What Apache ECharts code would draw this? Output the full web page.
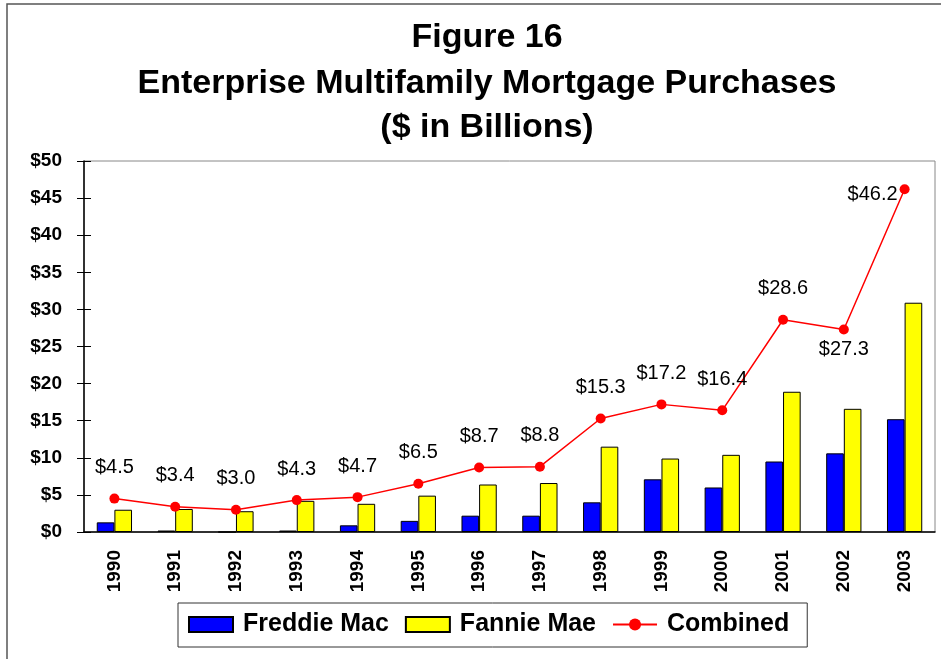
<!DOCTYPE html>
<html><head><meta charset="utf-8">
<script src="https://cdn.jsdelivr.net/npm/echarts@6/dist/echarts.min.js"></script>
<style>html,body{margin:0;padding:0;background:#fff}#c{width:941px;height:659px}</style>
</head><body><div id="c"></div>
<script>
const years = ['1990','1991','1992','1993','1994','1995','1996','1997','1998','1999','2000','2001','2002','2003'];
const freddie = [1.3, 0.2, 0.0, 0.2, 0.9, 1.5, 2.2, 2.2, 4.0, 7.1, 6.0, 9.5, 10.6, 15.2];
const fannie = [3.0, 3.1, 2.8, 4.2, 3.8, 4.9, 6.4, 6.6, 11.5, 9.9, 10.4, 18.9, 16.6, 30.9];
const combined = [4.5, 3.4, 3.0, 4.3, 4.7, 6.5, 8.7, 8.8, 15.3, 17.2, 16.4, 28.6, 27.3, 46.2];
const yTicks = [0, 5, 10, 15, 20, 25, 30, 35, 40, 45, 50];
const titleLines = ['Figure 16', 'Enterprise Multifamily Mortgage Purchases', '($ in Billions)'];

const FONT = '"Liberation Sans", Arial, sans-serif';
const chart = echarts.init(document.getElementById('c'), null, {renderer: 'canvas'});

const combinedData = combined.map((v, i) => {
  const d = {value: v};
  if (i === 12) d.label = {position: 'bottom', distance: 5};
  if (i === 13) d.label = {position: 'left', distance: 2, offset: [0, 5]};
  return d;
});

const titleY = [38, 84, 128];
const graphics = titleLines.map((t, i) => ({
  type: 'text', x: 487, y: titleY[i], scaleX: 1.03, z: 50,
  style: {text: t, font: 'bold 33px ' + FONT, fill: '#000', textAlign: 'center', textVerticalAlign: 'middle'}
}));
graphics.push({
  type: 'rect', shape: {x: 7, y: 4, width: 1000, height: 700},
  style: {fill: 'none', stroke: '#555', lineWidth: 1.5}, z: 100
});

chart.setOption({
  animation: false,
  backgroundColor: '#fff',
  textStyle: {fontFamily: FONT},
  graphic: graphics,
  legend: {
    left: 178, top: 603,
    padding: [9, 18, 10, 10],
    borderColor: '#333', borderWidth: 1,
    itemWidth: 44, itemHeight: 15, itemGap: 16,
    textStyle: {fontFamily: FONT, fontWeight: 'bold', fontSize: 25, color: '#000', padding: [0, 0, 0, 5]},
    data: [
      {name: 'Freddie Mac', icon: 'rect'},
      {name: 'Fannie Mae', icon: 'rect'},
      {name: 'Combined'}
    ]
  },
  grid: {left: 84, right: 6, top: 161, bottom: 127, show: true, borderColor: '#888', borderWidth: 1, containLabel: false},
  xAxis: {
    type: 'category', data: years,
    axisLine: {lineStyle: {color: '#000', width: 1.5}},
    axisTick: {length: 6, lineStyle: {color: '#000'}},
    axisLabel: {rotate: 90, margin: 18, fontFamily: FONT, fontWeight: 'bold', fontSize: 19, color: '#000'}
  },
  yAxis: [{
    type: 'value', min: 0, max: 50, interval: 5,
    axisLine: {show: true, lineStyle: {color: '#000', width: 1.5}},
    axisTick: {show: true, length: 7, lineStyle: {color: '#000'}},
    splitLine: {show: false},
    axisLabel: {margin: 22, fontFamily: FONT, fontWeight: 'bold', fontSize: 19, color: '#000',
      formatter: v => yTicks.includes(v) ? '$' + v : ''}
  }, {
    type: 'value', min: 0, max: 50, interval: 5, position: 'left', offset: 0,
    axisLine: {show: false},
    axisTick: {show: true, inside: true, length: 7, lineStyle: {color: '#000'}},
    splitLine: {show: false},
    axisLabel: {show: false}
  }],
  series: [{
    name: 'Freddie Mac', type: 'bar', data: freddie,
    barGap: '0%', barCategoryGap: '42%',
    itemStyle: {color: '#0000ff', borderColor: '#000', borderWidth: 1}
  }, {
    name: 'Fannie Mae', type: 'bar', data: fannie,
    itemStyle: {color: '#ffff00', borderColor: '#000', borderWidth: 1}
  }, {
    name: 'Combined', type: 'line', data: combinedData,
    symbol: 'circle', symbolSize: 10, z: 5,
    lineStyle: {color: '#ff0000', width: 1.5},
    itemStyle: {color: '#ff0000'},
    label: {show: true, position: 'top', distance: 16, fontFamily: FONT, fontSize: 20, color: '#000',
      formatter: p => '$' + p.value.toFixed(1)}
  }]
});
</script></body></html>
